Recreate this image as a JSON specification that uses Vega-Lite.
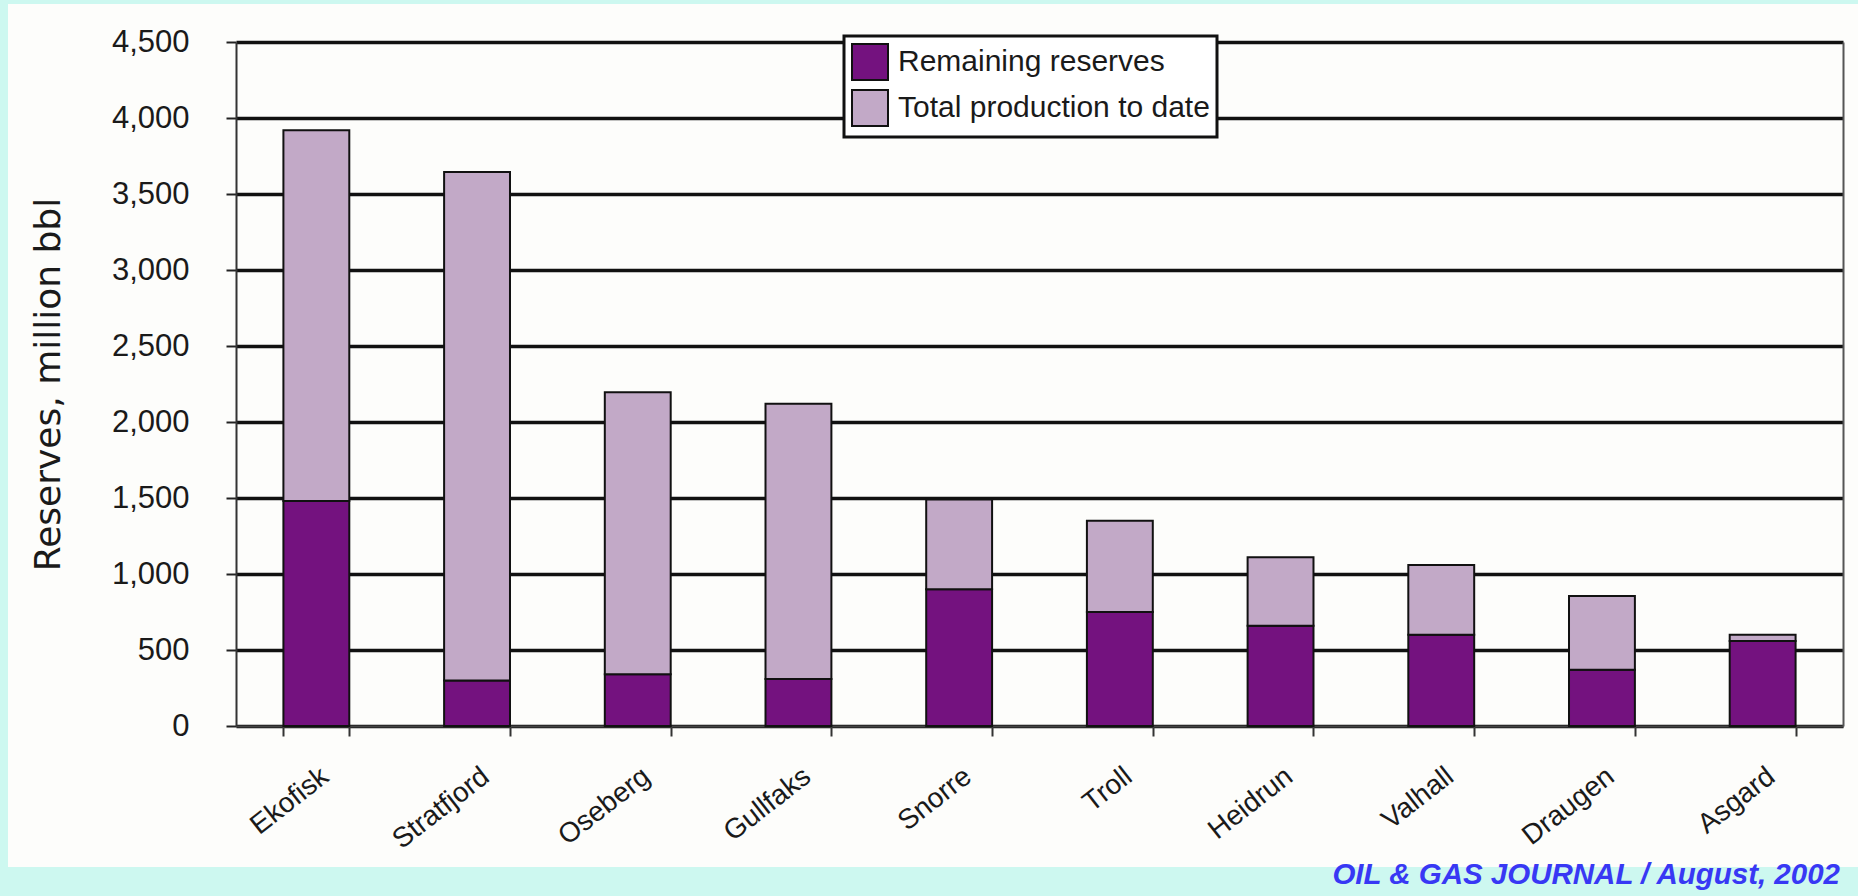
{
  "$schema": "https://vega.github.io/schema/vega-lite/v6.json",
  "width": 1850,
  "height": 863,
  "autosize": {"type": "none"},
  "padding": {"left": 8, "top": 4, "right": 0, "bottom": 29},
  "background": "#cdf8f0",
  "view": {"fill": "#fdfdfb", "stroke": null},
  "title": {
    "text": "OIL & GAS JOURNAL / August, 2002",
    "orient": "bottom",
    "anchor": "end",
    "frame": "group",
    "font": "Liberation Sans",
    "fontSize": 29.5,
    "fontStyle": "italic",
    "fontWeight": "bold",
    "color": "#3838f4",
    "offset": -6,
    "dx": -18
  },
  "data": {
    "values": [
      {"oilfield": "Ekofisk", "series": "Remaining reserves", "value": 1480},
      {"oilfield": "Ekofisk", "series": "Total production to date", "value": 2440},
      {"oilfield": "Stratfjord", "series": "Remaining reserves", "value": 300},
      {"oilfield": "Stratfjord", "series": "Total production to date", "value": 3345},
      {"oilfield": "Oseberg", "series": "Remaining reserves", "value": 340},
      {"oilfield": "Oseberg", "series": "Total production to date", "value": 1855},
      {"oilfield": "Gullfaks", "series": "Remaining reserves", "value": 310},
      {"oilfield": "Gullfaks", "series": "Total production to date", "value": 1810},
      {"oilfield": "Snorre", "series": "Remaining reserves", "value": 900},
      {"oilfield": "Snorre", "series": "Total production to date", "value": 590},
      {"oilfield": "Troll", "series": "Remaining reserves", "value": 750},
      {"oilfield": "Troll", "series": "Total production to date", "value": 600},
      {"oilfield": "Heidrun", "series": "Remaining reserves", "value": 660},
      {"oilfield": "Heidrun", "series": "Total production to date", "value": 450},
      {"oilfield": "Valhall", "series": "Remaining reserves", "value": 600},
      {"oilfield": "Valhall", "series": "Total production to date", "value": 460},
      {"oilfield": "Draugen", "series": "Remaining reserves", "value": 370},
      {"oilfield": "Draugen", "series": "Total production to date", "value": 485},
      {"oilfield": "Asgard", "series": "Remaining reserves", "value": 560},
      {"oilfield": "Asgard", "series": "Total production to date", "value": 40}
    ]
  },
  "layer": [
    {
      "mark": {"type": "bar", "stroke": "#111111", "strokeWidth": 2},
      "encoding": {
        "x": {
          "field": "oilfield",
          "type": "nominal",
          "sort": null,
          "scale": {"range": [228, 1835], "paddingInner": 0.59, "paddingOuter": 0.295},
          "axis": {
            "orient": "bottom",
            "offset": -141,
            "title": null,
            "grid": false,
            "labelAngle": -38,
            "labelAlign": "right",
            "labelBaseline": "top",
            "labelFont": "Liberation Sans",
            "labelFontSize": 28,
            "labelColor": "#1a1a1a",
            "labelPadding": 26,
            "tickBand": "extent",
            "tickSize": 10,
            "tickWidth": 2,
            "tickColor": "#333333",
            "domainColor": "#444444",
            "domainWidth": 2
          }
        },
        "y": {
          "field": "value",
          "type": "quantitative",
          "stack": "zero",
          "scale": {"domain": [0, 4500], "range": [722, 38], "nice": false},
          "axis": {
            "orient": "left",
            "offset": -228,
            "values": [0, 500, 1000, 1500, 2000, 2500, 3000, 3500, 4000, 4500],
            "format": ",d",
            "labelFont": "Liberation Sans",
            "labelFontSize": 31,
            "labelColor": "#1a1a1a",
            "labelPadding": 37,
            "tickSize": 10,
            "tickWidth": 2,
            "tickColor": "#222222",
            "domainColor": "#333333",
            "domainWidth": 2,
            "grid": true,
            "gridColor": "#111111",
            "gridWidth": 3.5,
            "title": "Reserves, million bbl",
            "titleFont": "DejaVu Sans",
            "titleFontSize": 36,
            "titleFontWeight": "normal",
            "titleColor": "#1a1a1a",
            "titlePadding": 44
          }
        },
        "color": {
          "field": "series",
          "type": "nominal",
          "scale": {
            "domain": ["Remaining reserves", "Total production to date"],
            "range": ["#74127f", "#c2a9c7"]
          },
          "legend": {
            "orient": "none",
            "legendX": 836,
            "legendY": 32,
            "title": null,
            "symbolType": "square",
            "symbolSize": 1296,
            "symbolStrokeColor": "#111111",
            "symbolStrokeWidth": 2,
            "symbolOpacity": 1,
            "labelFont": "Liberation Sans",
            "labelFontSize": 30,
            "labelColor": "#1a1a1a",
            "labelOffset": 9,
            "labelLimit": 500,
            "rowPadding": 2,
            "padding": 7,
            "strokeColor": "#111111",
            "fillColor": "#ffffff",
            "encode": {"legend": {"update": {"strokeWidth": {"value": 3}}}}
          }
        },
        "order": {"field": "series", "sort": "ascending"}
      }
    },
    {
      "mark": {"type": "point", "opacity": 0},
      "encoding": {
        "x": {"field": "oilfield", "type": "nominal", "sort": null},
        "y": {
          "field": "value",
          "type": "quantitative",
          "axis": {
            "orient": "right",
            "offset": -15,
            "labels": false,
            "ticks": false,
            "grid": false,
            "title": null,
            "domainColor": "#555555",
            "domainWidth": 2
          }
        }
      }
    }
  ],
  "resolve": {"axis": {"y": "independent"}}
}
